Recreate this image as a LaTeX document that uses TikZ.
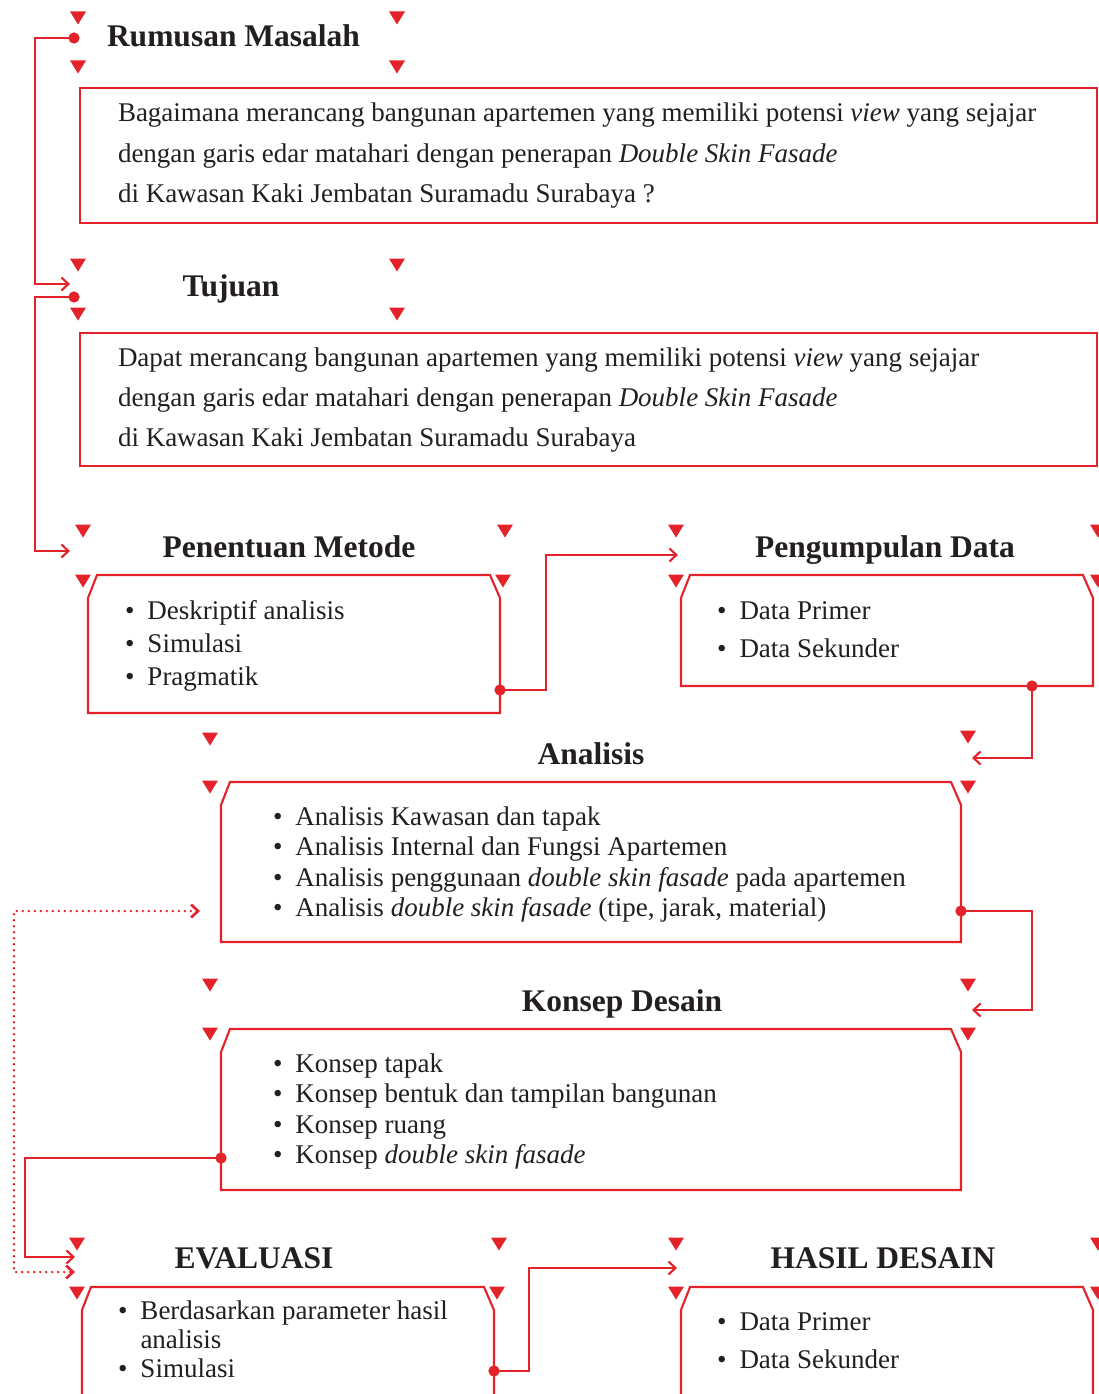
\documentclass[tikz,border=0pt]{standalone}
\usepackage{fontspec}
\setmainfont{Liberation Serif}
\usetikzlibrary{arrows.meta,positioning,calc}
\definecolor{accent}{HTML}{E3222A}
\definecolor{ink}{HTML}{231F20}

\newcommand{\itm}{\makebox[22.5pt][l]{\textbullet}}
\newcommand{\rows}[1]{\begin{tabular}[t]{@{}l@{}}#1\end{tabular}}
% frame with the two upper corners cut off
\newcommand{\cutframe}[1]{%
  \draw[rim] ([yshift=-23pt]#1.north west) -- ([xshift=9pt]#1.north west)
    -- ([xshift=-10pt]#1.north east) -- ([yshift=-23pt]#1.north east)
    -- (#1.south east) -- (#1.south west) -- cycle;}

\begin{document}
\begin{tikzpicture}[x=1pt,y=-1pt,
  every node/.style={text=ink,inner sep=0pt,outer sep=0pt},
  heading/.style={font=\fontsize{31.5}{36}\selectfont\bfseries,anchor=base},
  txt/.style={anchor=base west},
  area/.style={anchor=north west,minimum width=#1},
  rim/.style={draw=accent,line width=2.1pt},
  dot/.style={circle,fill=accent,draw=accent,minimum size=9pt},
  wire/.style={accent,line width=2.1pt,-{Straight Barb[length=7pt,width=13pt]}},
  back/.style={accent,line width=2.6pt,line cap=round,dash pattern=on 0pt off 6pt,
               {Straight Barb[length=7pt,width=13pt]}-{Straight Barb[length=7pt,width=13pt]}},
  pics/tri/.style={code={\fill[accent] (-8,-6.5) -- (8,-6.5) -- (0,6.5) -- cycle;}}
]
\path[fill=white,use as bounding box] (0,0) rectangle (1099,1394);

% corner markers round the headings
\foreach \x/\y in {78/18,397/18,78/67,397/67, 78/265,397/265,78/314,397/314,
  83/531,505/531,83/581,503/581, 676/531,1098/531,676/581,1098/581,
  210/739,968/737,210/787,968/787, 210/985,968/985,210/1034,968/1034,
  77/1244,499/1244,77/1293,497/1293, 676/1244,1098/1244,676/1293,1098/1293}
  \pic at (\x,\y) {tri};

% headings
\node[heading,anchor=base west] (rumHead) at (107,47) {Rumusan Masalah};
\node[heading] (tujHead) at (231,296) {Tujuan};
\node[heading] (metHead) at (289,557) {Penentuan Metode};
\node[heading] (dataHead) at (885,557) {Pengumpulan Data};
\node[heading] (anaHead) at (591,764) {Analisis};
\node[heading] (konHead) at (622,1011) {Konsep Desain};
\node[heading] (evaHead) at (254,1268) {EVALUASI};
\node[heading] (hasHead) at (883,1268) {HASIL DESAIN};

% frames
\node[area=1017pt,minimum height=135pt,rim] (rumBox) at (80,88) {};
\node[area=1017pt,minimum height=133pt,rim] (tujBox) at (80,333) {};
\node[area=412pt,minimum height=138pt] (metBox) at (88,575) {};
\node[area=412pt,minimum height=111pt] (dataBox) at (681,575) {};
\node[area=740pt,minimum height=160pt] (anaBox) at (221,782) {};
\node[area=740pt,minimum height=161pt] (konBox) at (221,1029) {};
\node[area=412pt,minimum height=130pt] (evaBox) at (82,1287) {};
\node[area=412pt,minimum height=130pt] (hasBox) at (681,1287) {};
\foreach \b in {metBox,dataBox,anaBox,konBox,evaBox,hasBox}
  \cutframe{\b};

% texts
\node[txt,font=\fontsize{27}{40.5}\selectfont] (rumText) at (118,122) {\rows{%
  Bagaimana merancang bangunan apartemen yang memiliki potensi \textit{view} yang sejajar\\
  dengan garis edar matahari dengan penerapan \textit{Double Skin Fasade}\\
  di Kawasan Kaki Jembatan Suramadu Surabaya ?}};
\node[txt,font=\fontsize{27}{40}\selectfont] (tujText) at (118,366) {\rows{%
  Dapat merancang bangunan apartemen yang memiliki potensi \textit{view} yang sejajar\\
  dengan garis edar matahari dengan penerapan \textit{Double Skin Fasade}\\
  di Kawasan Kaki Jembatan Suramadu Surabaya}};
\node[txt,font=\fontsize{27}{33}\selectfont] (metText) at (125,619) {\rows{%
  \itm Deskriptif analisis\\ \itm Simulasi\\ \itm Pragmatik}};
\node[txt,font=\fontsize{27}{38}\selectfont] (dataText) at (717,619) {\rows{%
  \itm Data Primer\\ \itm Data Sekunder}};
\node[txt,font=\fontsize{27}{30.5}\selectfont] (anaText) at (273,825) {\rows{%
  \itm Analisis Kawasan dan tapak\\
  \itm Analisis Internal dan Fungsi Apartemen\\
  \itm Analisis penggunaan \textit{double skin fasade} pada apartemen\\
  \itm Analisis \textit{double skin fasade} (tipe, jarak, material)}};
\node[txt,font=\fontsize{27}{30.5}\selectfont] (konText) at (273,1072) {\rows{%
  \itm Konsep tapak\\
  \itm Konsep bentuk dan tampilan bangunan\\
  \itm Konsep ruang\\
  \itm Konsep \textit{double skin fasade}}};
\node[txt,font=\fontsize{27}{29}\selectfont] (evaText) at (118,1319) {\rows{%
  \itm Berdasarkan parameter hasil\\ \hspace*{22.5pt}analisis\\ \itm Simulasi}};
\node[txt,font=\fontsize{27}{38}\selectfont] (hasText) at (717,1330) {\rows{%
  \itm Data Primer\\ \itm Data Sekunder}};

% entry points of the connectors
\coordinate (rumDot) at (74,38);
\coordinate (tujIn) at (70,284);
\coordinate (tujDot) at (74,297);
\coordinate (metIn) at (70,551);
\coordinate (dataIn) at (678,555);
\coordinate (anaIn) at (972,758);
\coordinate (konIn) at (972,1010);
\coordinate (evaIn) at (75,1257);
\coordinate (hasIn) at (677,1268);
\coordinate (anaBack) at (200,911);
\coordinate (evaBack) at (75,1272);

% connectors
\draw[wire] (rumDot) node[dot] {} -- ++(-39,0) |- (tujIn);
\draw[wire] (tujDot) node[dot] {} -- ++(-39,0) |- (metIn);
\draw[wire] ([yshift=23pt]metBox.south east) node[dot] {} -- ++(46,0) |- (dataIn);
\draw[wire] ([xshift=-61pt]dataBox.south east) node[dot] {} |- (anaIn);
\draw[wire] ([yshift=31pt]anaBox.south east) node[dot] {} -- ++(71,0) |- (konIn);
\draw[wire] ([yshift=32pt]konBox.south west) node[dot] {} -- ++(-196,0) |- (evaIn);
\draw[wire] ([yshift=-84pt]evaBox.north east) node[dot] {} -- ++(35,0) |- (hasIn);
\draw[back] (anaBack) -- ++(-186,0) |- (evaBack);
\end{tikzpicture}
\end{document}
